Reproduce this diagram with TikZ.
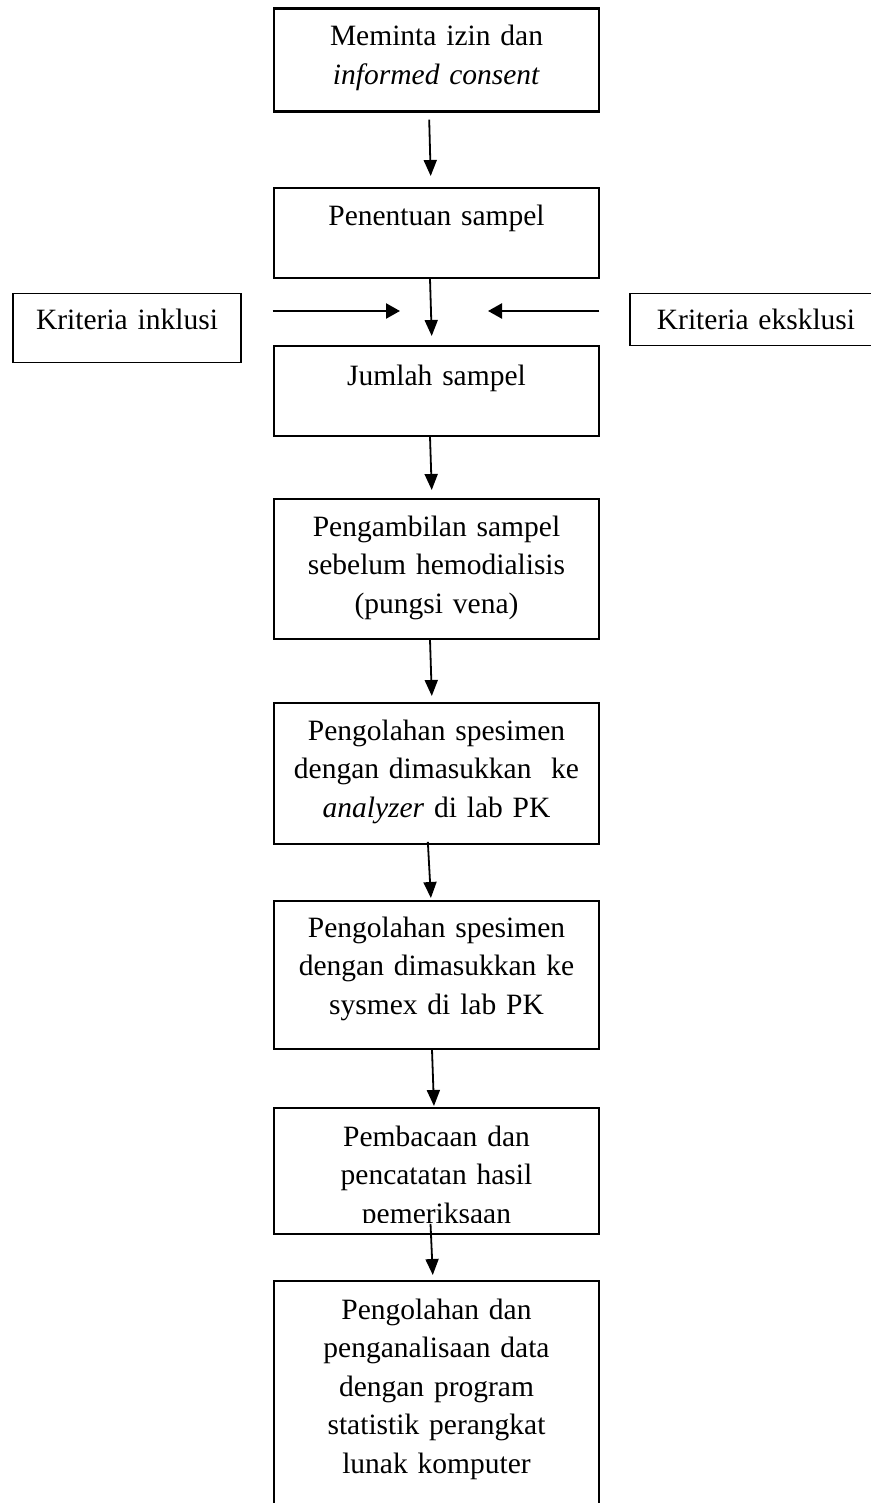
\documentclass[tikz,border=0pt]{standalone}
\usepackage{fontspec}
\setmainfont{Liberation Serif}
\usetikzlibrary{arrows.meta}
\tikzset{
	stepbox/.style={draw,line width=1.8pt,minimum width=325pt,inner sep=0pt,anchor=north},
	steptext/.style={anchor=base,align=center,text width=325pt,inner sep=0pt,font=\fontsize{29.5}{38.6}\selectfont},
	flow/.style={->,line width=1.8pt},
	side/.style={-{Triangle[length=14pt,width=15pt]},line width=2.4pt},
}
\begin{document}
\begin{tikzpicture}[>={Triangle[length=16pt,width=13pt]},x=1pt,y=-1pt]
	\useasboundingbox (0,0) rectangle (870,1503);
	% kotak alur utama
	\node[stepbox,line width=2.7pt,minimum height=103pt] (izin) at (436.5,7) {};
	\node[stepbox,minimum height=90pt] (tentu) at (436.5,187) {};
	\node[stepbox,minimum height=90pt] (jumlah) at (436.5,345) {};
	\node[stepbox,minimum height=140pt] (ambil) at (436.5,498) {};
	\node[stepbox,minimum height=141pt] (analyzer) at (436.5,702) {};
	\node[stepbox,minimum height=148pt] (sysmex) at (436.5,900) {};
	\node[stepbox,minimum height=126pt] (baca) at (436.5,1107) {};
	\node[stepbox,minimum height=240pt] (olah) at (436.5,1280) {};
	% kriteria
	\node[stepbox,line width=1.4pt,minimum width=228pt,minimum height=69pt] (inklusi) at (127,293) {};
	\node[stepbox,line width=1.4pt,minimum width=252pt,minimum height=52pt] (eksklusi) at (756,293) {};
	% teks
	\node[steptext] (izin-t) at (436.5,46) {Meminta izin dan\\\textit{informed consent}};
	\node[steptext] (tentu-t) at (436.5,226) {Penentuan sampel};
	\node[steptext] (jumlah-t) at (436.5,385) {Jumlah sampel};
	\node[steptext] (ambil-t) at (436.5,536) {Pengambilan sampel\\sebelum hemodialisis\\(pungsi vena)};
	\node[steptext] (analyzer-t) at (436.5,740) {Pengolahan spesimen\\dengan dimasukkan\ \ ke\\\textit{analyzer} di lab PK};
	\node[steptext] (sysmex-t) at (436.5,937) {Pengolahan spesimen\\dengan dimasukkan ke\\sysmex di lab PK};
	\begin{scope}
		\clip (274,1100) rectangle (599,1222.5);
		\node[steptext] (baca-t) at (436.5,1146) {Pembacaan dan\\pencatatan hasil\\pemeriksaan};
	\end{scope}
	\node[steptext] (olah-t) at (436.5,1319) {Pengolahan dan\\penganalisaan data\\dengan program\\statistik perangkat\\lunak komputer};
	\node[steptext,text width=228pt] (inklusi-t) at (127,330) {Kriteria inklusi};
	\node[steptext,text width=252pt] (eksklusi-t) at (756,330) {Kriteria eksklusi};
	% panah
	\draw[flow,shorten <=7pt,shorten >=11pt] ([xshift=-7.5pt]izin.south) -- ([xshift=-5.5pt]tentu.north);
	\draw[flow,shorten >=9pt] ([xshift=-6.5pt]tentu.south) -- ([xshift=-4.5pt]jumlah.north);
	\draw[flow,shorten >=8pt] ([xshift=-6.5pt]jumlah.south) -- ([xshift=-4.5pt]ambil.north);
	\draw[flow,shorten >=6pt] ([xshift=-6.5pt]ambil.south) -- ([xshift=-4.5pt]analyzer.north);
	\draw[flow,shorten <=-3pt,shorten >=2pt] ([xshift=-8.5pt]analyzer.south) -- ([xshift=-5.5pt]sysmex.north);
	\draw[flow,shorten >=1pt] ([xshift=-4.5pt]sysmex.south) -- ([xshift=-2.5pt]baca.north);
	\draw[flow,shorten <=-11pt,shorten >=5pt] ([xshift=-5.5pt]baca.south) -- ([xshift=-3.5pt]olah.north);
	\coordinate (meet) at (444,311);
	\draw[side,shorten <=31pt,shorten >=44pt] (inklusi.east |- meet) -- (meet);
	\draw[side,shorten <=30pt,shorten >=44pt] (eksklusi.west |- meet) -- (meet);
\end{tikzpicture}
\end{document}
